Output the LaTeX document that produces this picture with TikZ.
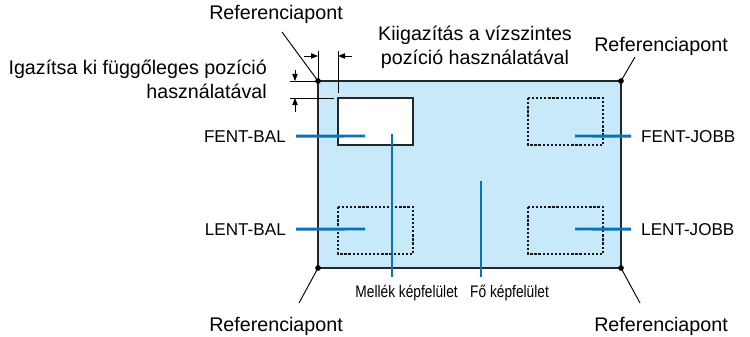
\documentclass[tikz,border=0pt]{standalone}
\usepackage{fontspec}
\setmainfont{Liberation Sans}
\newfontfamily\condfont[FakeStretch=0.82]{Liberation Sans}
\usepackage{xcolor}
\usepackage{tikz}
\usetikzlibrary{arrows.meta,positioning}

\definecolor{screenblue}{HTML}{C8E9F9}
\definecolor{leaderblue}{HTML}{0A72BA}

\begin{document}
\begin{tikzpicture}[x=0.3mm, y=-0.3mm,
    lbl/.style={font=\fontsize{16.8}{20.5}\selectfont, inner sep=0pt},
    caplbl/.style={font=\fontsize{14.6}{18}\selectfont, inner sep=0pt},
    sublbl/.style={font=\fontsize{14.3}{17}\selectfont\condfont, inner sep=0pt},
    leader/.style={line width=0.8pt, black},
    bluelead/.style={line width=2.5pt, leaderblue},
    dimline/.style={line width=0.7pt, black},
    dimarrow/.style={-{Triangle[length=2.1mm,width=1.6mm]}, line width=0.7pt, black},
    screen/.style={draw=black!85, fill=screenblue, line width=1.1pt},
    subwin/.style={draw=black!85, fill=white, line width=1.1pt},
    dashbox/.style={draw=black!90, line width=1pt, dash pattern=on 2pt off 1.5pt},
    refdot/.style={circle, fill=black, inner sep=0pt, minimum size=1.7mm}
]
\useasboundingbox (0,0) rectangle (750,337);

% Screen corners (reference points)
\coordinate (tl) at (318,81);
\coordinate (tr) at (621,81);
\coordinate (bl) at (318,268);
\coordinate (br) at (621,268);

% Main screen and the sub-window
\draw[screen] (tl) rectangle (br);
\draw[subwin] (338,98) rectangle (413,145);

% Dotted positions of the sub-window
\draw[dashbox] (528,98) rectangle (603,145);
\draw[dashbox] (338,207) rectangle (413,254);
\draw[dashbox] (528,207) rectangle (603,254);

% Reference point dots
\node[refdot] (dtl) at (tl) {};
\node[refdot] (dtr) at (tr) {};
\node[refdot] (dbl) at (bl) {};
\node[refdot] (dbr) at (br) {};

% Horizontal offset (extension lines + arrows)
\draw[dimline] (318,51) -- (tl);
\draw[dimline] (338,51) -- (338,93);
\draw[dimarrow] (304,56) -- (318,56);
\draw[dimarrow] (352,56) -- (338,56);

% Vertical offset (extension lines + arrows)
\draw[dimline] (290,81) -- (tl);
\draw[dimline] (290,98) -- (334,98);
\draw[dimarrow] (295,70) -- (295,81);
\draw[dimarrow] (295,112) -- (295,98);

% Labels
\node[lbl, anchor=base] (refTL) at (276,20) {Referenciapont};
\node[lbl, anchor=base] (refTR) at (661,52) {Referenciapont};
\node[lbl, anchor=base] (refBL) at (276,331) {Referenciapont};
\node[lbl, anchor=base] (refBR) at (661,331) {Referenciapont};
\node[lbl, align=center, anchor=north] (horiz) at (475,26) {Kiigazítás a vízszintes\\pozíció használatával};
\node[lbl, align=right, anchor=north east] (vert) at (267,60) {Igazítsa ki függőleges pozíció\\használatával};

\node[caplbl, anchor=base east] (fentbal) at (286,142) {FENT-BAL};
\node[caplbl, anchor=base east] (lentbal) at (286,235) {LENT-BAL};
\node[caplbl, anchor=base west] (fentjobb) at (641,142) {FENT-JOBB};
\node[caplbl, anchor=base west] (lentjobb) at (641,235) {LENT-JOBB};
\node[sublbl, anchor=base east] (mellek) at (458,297) {Mellék képfelület};
\node[sublbl, anchor=base west] (fo) at (470,297) {Fő képfelület};

% Leader lines to the reference points
\coordinate (tlend) at (282,32);
\coordinate (trend) at (635,57);
\coordinate (blend) at (299,303);
\coordinate (brend) at (640,303);
\draw[leader] (tlend) -- (dtl.center);
\draw[leader] (trend) -- (dtr.center);
\draw[leader] (blend) -- (dbl.center);
\draw[leader] (brend) -- (dbr.center);

% Blue pointer lines
\coordinate (fbin) at (365,136);
\coordinate (lbin) at (365,229);
\coordinate (fjin) at (575,136);
\coordinate (ljin) at (575,229);
\coordinate (subin) at (392,134);
\coordinate (mainin) at (481,181);
\draw[bluelead] ([xshift=3mm]fentbal.east) -- (fbin);
\draw[bluelead] ([xshift=3mm]lentbal.east) -- (lbin);
\draw[bluelead] ([xshift=-3mm]fentjobb.west) -- (fjin);
\draw[bluelead] ([xshift=-3mm]lentjobb.west) -- (ljin);
\draw[bluelead] (subin) -- (subin |- 0,277);
\draw[bluelead] (mainin) -- (mainin |- 0,277);
\end{tikzpicture}
\end{document}
